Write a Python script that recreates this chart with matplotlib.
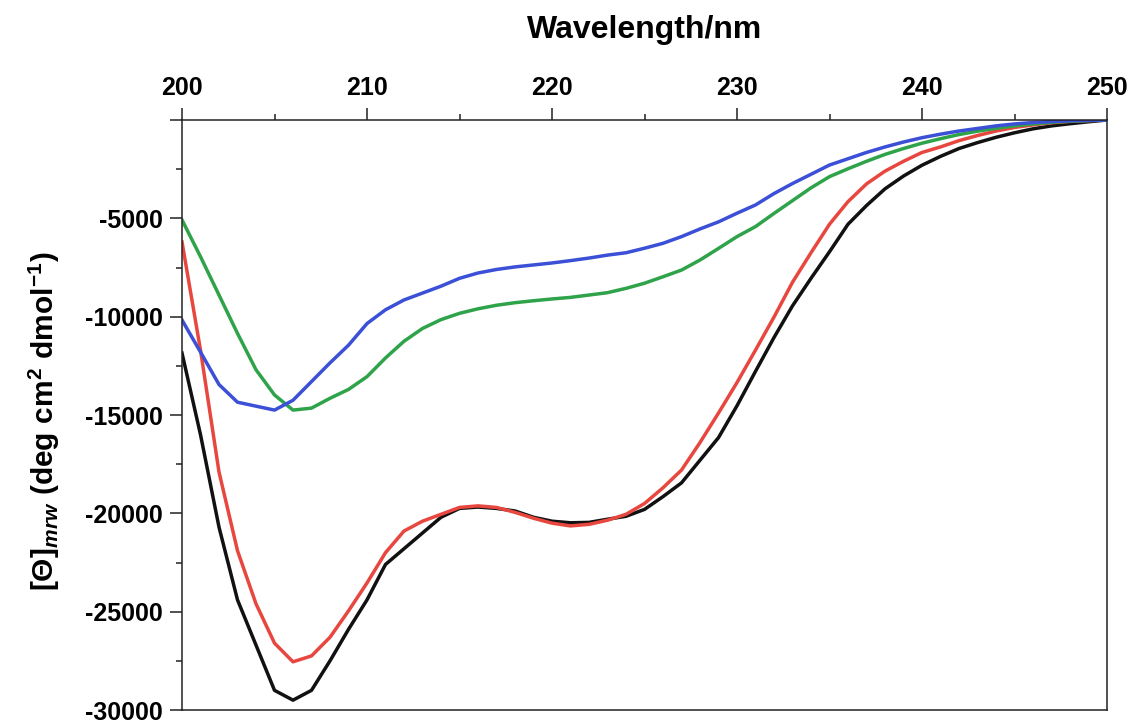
import matplotlib
matplotlib.use("Agg")
import matplotlib.pyplot as plt
from matplotlib.ticker import MultipleLocator

plt.rcParams["font.family"] = ["Liberation Sans", "DejaVu Sans"]
plt.rcParams["font.weight"] = "bold"
plt.rcParams["axes.unicode_minus"] = False
plt.rcParams["mathtext.fontset"] = "custom"
plt.rcParams["mathtext.rm"] = "Liberation Sans:bold"
plt.rcParams["mathtext.bf"] = "Liberation Sans:bold"
plt.rcParams["mathtext.it"] = "Liberation Sans:bold:italic"

wavelength = list(range(200, 251))

theta_black = [
    -11850, -16000, -20700, -24400, -26700, -29000, -29500, -29000, -27500, -25900,
    -24400, -22600, -21800, -21000, -20200, -19750, -19680, -19750, -19880, -20200,
    -20400, -20480, -20460, -20300, -20150, -19800, -19150, -18450, -17300, -16150,
    -14530, -12780, -11060, -9450, -8050, -6700, -5300, -4350, -3500, -2850,
    -2300, -1850, -1450, -1150, -880, -650, -450, -300, -190, -90, 0,
]
theta_red = [
    -6200, -11700, -17900, -21900, -24600, -26600, -27550, -27250, -26300, -24960,
    -23540, -22000, -20900, -20400, -20050, -19700, -19620, -19700, -19950, -20250,
    -20500, -20640, -20560, -20350, -20050, -19500, -18700, -17800, -16400, -14900,
    -13350, -11700, -10020, -8250, -6750, -5300, -4150, -3250, -2600, -2100,
    -1650, -1370, -1050, -790, -560, -380, -250, -140, -70, -30, 0,
]
theta_green = [
    -5080, -6950, -8900, -10850, -12700, -13980, -14750, -14650, -14150, -13700,
    -13050, -12100, -11250, -10600, -10150, -9830, -9600, -9420, -9290, -9190,
    -9100, -9020, -8900, -8780, -8560, -8300, -7970, -7630, -7120, -6530,
    -5930, -5420, -4750, -4100, -3450, -2880, -2480, -2100, -1750, -1450,
    -1180, -950, -740, -570, -420, -300, -200, -120, -60, -25, 0,
]
theta_blue = [
    -10170, -11800, -13450, -14350, -14550, -14750, -14250, -13300, -12350, -11450,
    -10350, -9650, -9150, -8800, -8450, -8050, -7780, -7600, -7470, -7370,
    -7270, -7150, -7020, -6870, -6750, -6520, -6270, -5930, -5540, -5180,
    -4740, -4320, -3740, -3230, -2760, -2290, -1970, -1650, -1370, -1120,
    -900, -720, -560, -430, -300, -200, -130, -80, -40, -15, 0,
]

y_ticks = [0, -5000, -10000, -15000, -20000, -25000, -30000]
y_ticklabels = ["", "-5000", "-10000", "-15000", "-20000", "-25000", "-30000"]
x_ticks = [200, 210, 220, 230, 240, 250]

fig = plt.figure(figsize=(11.34, 7.24), dpi=100)
ax = fig.add_axes([182 / 1134, 1 - 710 / 724, 925 / 1134, 590 / 724])

lw = 2.5
ax.plot(wavelength, theta_black, color="#111111", lw=lw)
ax.plot(wavelength, theta_red, color="#e8473f", lw=lw)
ax.plot(wavelength, theta_green, color="#2ea34a", lw=lw)
ax.plot(wavelength, theta_blue, color="#3b50d6", lw=lw)

ax.set_xlim(200, 250)
ax.set_ylim(-30000, 0)

ax.xaxis.tick_top()
ax.set_xticks(x_ticks)
ax.xaxis.set_minor_locator(MultipleLocator(5))
ax.set_yticks(y_ticks)
ax.set_yticklabels(y_ticklabels)
ax.yaxis.set_minor_locator(MultipleLocator(2500))

ax.tick_params(axis="both", which="major", direction="out", length=8.5, width=1.1,
               labelsize=18, color="#222222")
ax.tick_params(axis="both", which="minor", direction="out", length=4.5, width=1.1,
               color="#222222")
ax.tick_params(axis="x", which="major", pad=6)
ax.tick_params(axis="y", which="major", pad=5)
for lab in ax.get_xticklabels() + ax.get_yticklabels():
    lab.set_fontweight("bold")

for side in ["left", "top", "right", "bottom"]:
    ax.spines[side].set_linewidth(1.1)
    ax.spines[side].set_color("#222222")

ax.xaxis.set_label_position("top")
ax.set_xlabel("Wavelength/nm", fontsize=23, fontweight="bold")
ax.xaxis.label.set_verticalalignment("center")
ax.xaxis.set_label_coords(0.5, 1.1525)

ax.set_ylabel(r"$\mathrm{[\Theta]}_{\mathit{mrw}}\mathrm{\ (deg\ cm^{2}\ dmol^{-1})}$",
              fontsize=21.5)
ax.yaxis.set_label_coords(-0.13, 0.49)

fig.savefig("out.png", dpi=100)
